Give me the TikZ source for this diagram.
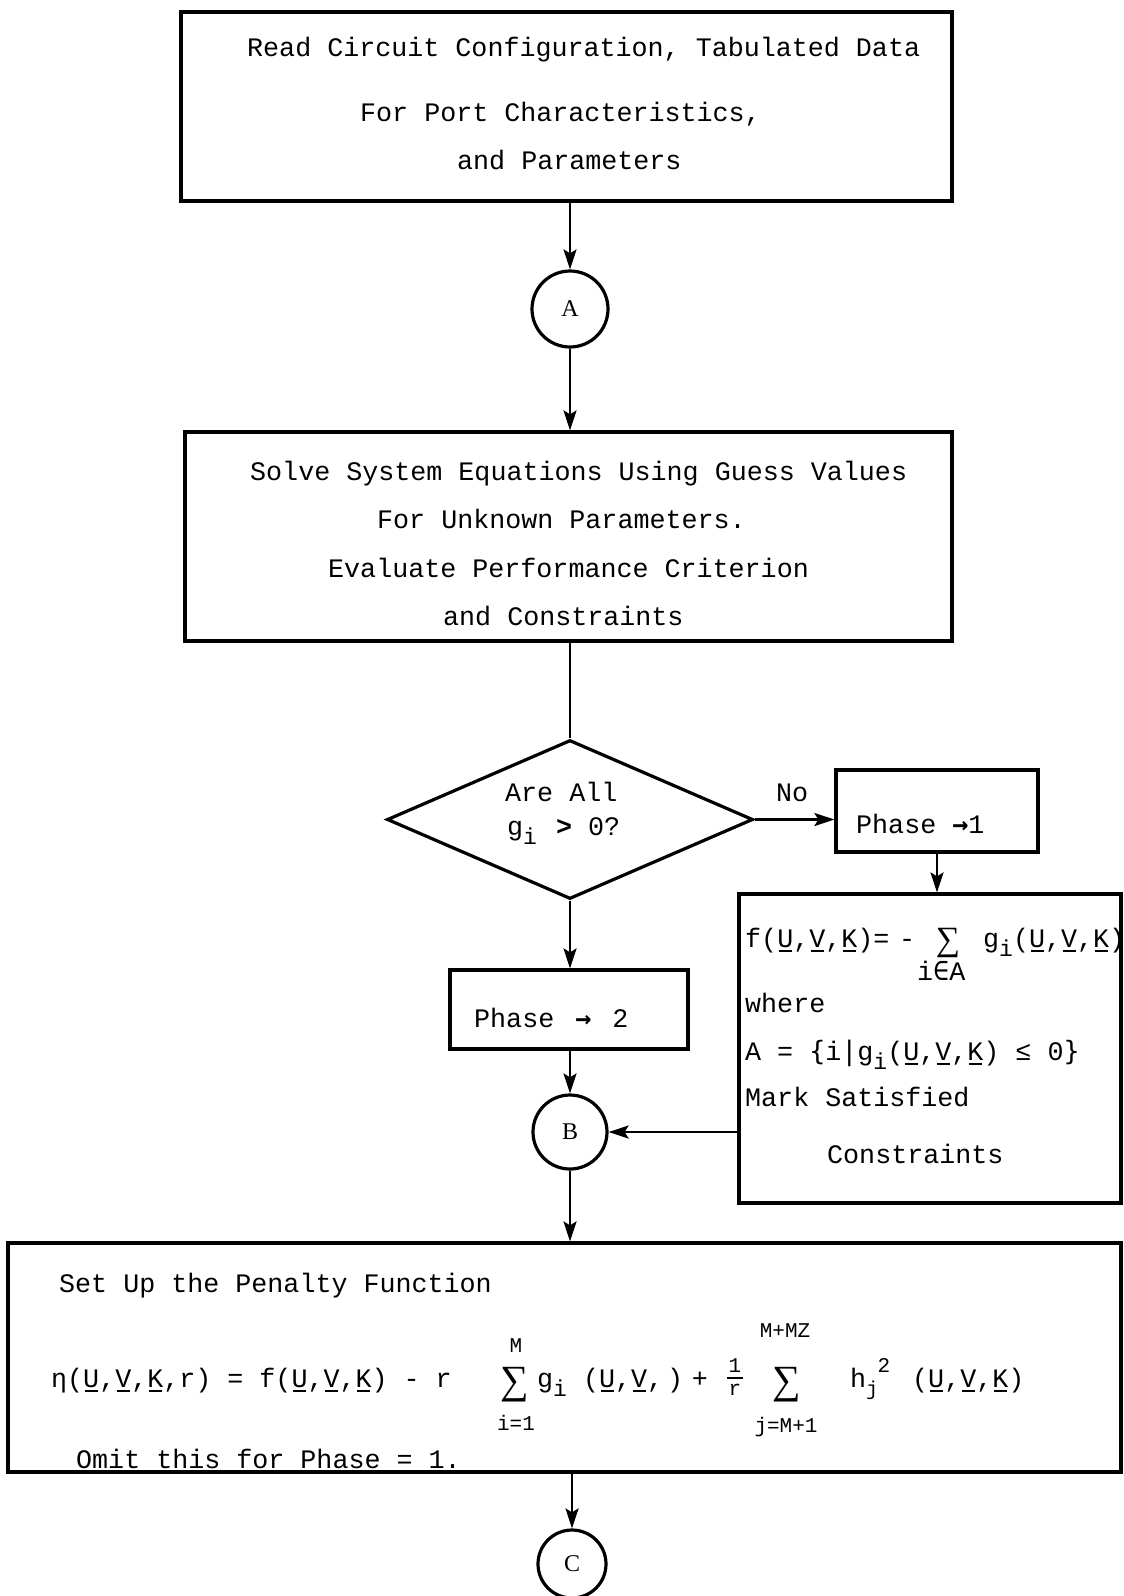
\documentclass[tikz,border=0pt]{standalone}
\usepackage{fontspec}
\setmainfont{Liberation Mono}
\newfontfamily\djm{DejaVu Sans Mono}
\newfontfamily\lserif{Liberation Serif}
\usetikzlibrary{shapes.geometric,arrows.meta}
\newcommand\uln[1]{\leavevmode\rlap{\hspace{1.5pt}\raisebox{-5pt}{\rule{13pt}{1.6pt}}}#1}
\newcommand\lsub[1]{\raisebox{-9pt}{\fontsize{23}{23}\selectfont #1}}
\begin{document}
\begin{tikzpicture}[x=1pt,y=-1pt,
  font=\fontsize{26.7}{32}\selectfont,
  box/.style={draw, rectangle, inner sep=0pt, line width=3.2pt},
  circ/.style={draw, circle, inner sep=0pt, line width=3.2pt, font=\lserif\fontsize{24}{24}\selectfont},
  txt/.style={inner sep=0pt, anchor=base west},
  small/.style={inner sep=0pt, anchor=base, font=\fontsize{21}{21}\selectfont},
  sumsign/.style={inner sep=0pt, anchor=base, font=\lserif\fontsize{40}{40}\selectfont},
  flow/.style={-{Stealth[length=20pt,width=13pt,inset=4pt]}, line width=2.6pt},
  plain/.style={line width=2.6pt}]
\useasboundingbox (0,0) rectangle (1124,1596);

% shapes
\node[box, minimum width=771pt, minimum height=189pt] (read) at (566.5,106.5) {};
\node[circ, minimum size=76pt] (A) at (570,309) {A};
\node[box, minimum width=767pt, minimum height=209pt] (solve) at (568.5,536.5) {};
\node[draw, diamond, inner sep=0pt, line width=3.2pt, minimum width=366pt, minimum height=159pt] (test) at (570,819.5) {};
\node[box, minimum width=202pt, minimum height=82pt] (ph1) at (937,811) {};
\node[box, minimum width=382pt, minimum height=309pt] (sat) at (930,1048.5) {};
\node[box, minimum width=238pt, minimum height=79pt] (ph2) at (569,1009.5) {};
\node[circ, minimum size=74pt] (B) at (570,1132) {B};
\node[box, minimum width=1113pt, minimum height=229pt] (pen) at (564.5,1357.5) {};
\node[circ, minimum size=68pt] (C) at (572,1564) {C};

% connectors
\draw[flow] (read.south -| A) -- (A.north);
\draw[flow] (A.south) -- (A |- solve.north);
\draw[plain] (solve.south -| test) -- (test.north);
\draw[flow] (test.east) -- (test.east -| ph1.west);
\draw[flow] (ph1.south) -- (ph1.south |- sat.north);
\draw[flow] (test.south) -- (test.south |- ph2.north);
\draw[flow] (ph2.south -| B) -- (B.north);
\draw[flow] (sat.west |- B) -- (B.east);
\draw[flow] (B.south) -- (B |- pen.north);
\draw[flow] (pen.south -| C) -- (C.north);

% texts: first box
\node[txt] (r1) at (247,56) {Read Circuit Configuration, Tabulated Data};
\node[txt] (r2) at (360,121) {For Port Characteristics,};
\node[txt] (r3) at (457,169) {and Parameters};
% second box
\node[txt] (s1) at (250,480) {Solve System Equations Using Guess Values};
\node[txt] (s2) at (377,528) {For Unknown Parameters.};
\node[txt] (s3) at (328,577) {Evaluate Performance Criterion};
\node[txt] (s4) at (443,625) {and Constraints};
% decision
\node[txt] (d1) at (505,801) {Are All};
\node[txt] (d2) at (507,835) {g\lsub{i}\hspace{3pt} {\bfseries >} 0?};
\node[txt] (no) at (776,801) {No};
\node[txt] (p1) at (856,833) {Phase {\djm\bfseries→}1};
\node[txt] (p2) at (474,1027) {Phase\hspace{5pt} {\djm\bfseries→}\hspace{5pt} 2};
% right box
\node[txt] (f1) at (745,947) {f(\uln{U},\uln{V},\uln{K})=};
\node[txt] (f2) at (899,947) {-};
\node[sumsign, font=\lserif\fontsize{34}{34}\selectfont] (f3) at (948,950) {∑};
\node[txt] (f4) at (983,947) {g\lsub{i}(\uln{U},\uln{V},\uln{K})};
\node[txt] (f5) at (917,980) {i{\djm∈}A};
\node[txt] (w) at (745,1012) {where};
\node[txt] (aset) at (745,1060) {A = {\djm\{}i{\djm|}g\lsub{i}(\uln{U},\uln{V},\uln{K}) ≤ 0{\djm\}}};
\node[txt] (mk) at (745,1106) {Mark Satisfied};
\node[txt] (cs) at (827,1163) {Constraints};
% bottom box
\node[txt] (pf) at (59,1292) {Set Up the Penalty Function};
\node[txt] (eta) at (51,1387) {η(\uln{U},\uln{V},\uln{K},r) = f(\uln{U},\uln{V},\uln{K}) - r};
\node[sumsign] (sum1) at (515,1393) {∑};
\node[txt] (gi) at (537,1387) {g\lsub{i} (\uln{U},\uln{V},\hspace{4pt})};
\node[inner sep=0pt, anchor=base] (plus) at (700,1387) {+};
\node[inner sep=0pt, anchor=base, font=\fontsize{21}{21}\selectfont] (fone) at (735,1372) {1};
\node[inner sep=0pt, anchor=base, font=\fontsize{21}{21}\selectfont] (fden) at (735,1395) {r};
\draw[line width=1.8pt] (727,1378) -- (743,1378);
\node[sumsign] (sum2) at (787,1393) {∑};
\node[txt] (hj) at (850,1387) {h\raisebox{-8pt}{\fontsize{20}{20}\selectfont j}};
\node[small] (sq) at (884,1372) {2};
\node[txt] (uvk) at (912,1387) {(\uln{U},\uln{V},\uln{K})};
\node[small] (mtop) at (516,1352) {M};
\node[small] (ilow) at (516,1430) {i=1};
\node[small] (mmz) at (785,1337) {M+MZ};
\node[small] (jlow) at (786,1432) {j=M+1};
\node[txt] (om) at (76,1468) {Omit this for Phase = 1.};
\end{tikzpicture}
\end{document}
